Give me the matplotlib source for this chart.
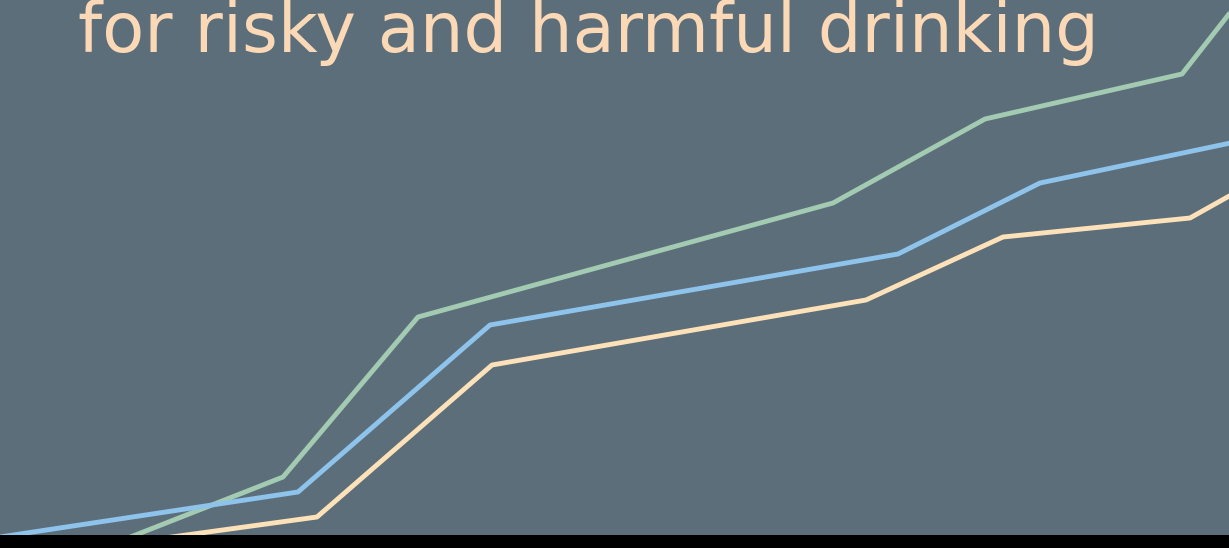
import matplotlib
matplotlib.use("Agg")
import matplotlib.pyplot as plt

# Values (arbitrary units)
green_x = [100, 283, 418, 833, 985, 1182, 1240]
green_y = [-14, 58, 218, 332, 416, 461, 535]
blue_x = [0, 298, 490, 898, 1040, 1240]
blue_y = [-2, 43, 210, 281, 352, 394]
peach_x = [150, 317, 492, 866, 1003, 1190, 1240]
peach_y = [-5, 18, 170, 235, 298, 317, 345]

title = "for risky and harmful drinking"

W, H = 1229, 548
fig = plt.figure(figsize=(W / 100, H / 100), dpi=100, facecolor="black")
ax = fig.add_axes([0, 13 / H, 1, 535 / H])
ax.set_facecolor("#5d6e7b")
ax.plot(green_x, green_y, color="#a2cbb2", lw=3.5, solid_capstyle="butt")
ax.plot(blue_x, blue_y, color="#8ec4ec", lw=3.5, solid_capstyle="butt")
ax.plot(peach_x, peach_y, color="#fde2b9", lw=3.5, solid_capstyle="butt")
ax.set_xlim(0, 1229)
ax.set_ylim(0, 535)
ax.set_xticks([])
ax.set_yticks([])
for s in ax.spines.values():
    s.set_visible(False)

fig.text(78 / W, 1 - 52 / H, title, color="#fbd9b6", fontsize=49.5,
         family="DejaVu Sans", va="baseline", ha="left")

fig.savefig("out.png", dpi=100, facecolor="black")
